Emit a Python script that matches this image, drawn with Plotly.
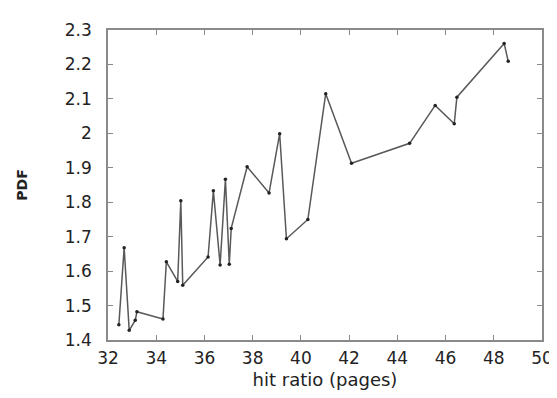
import plotly.graph_objects as go

hit_ratio = [32.45, 32.67, 32.88, 33.13, 33.2, 34.28, 34.42, 34.89, 35.02, 35.1,
             36.15, 36.37, 36.65, 36.87, 37.03, 37.11, 37.77, 38.68, 39.12, 39.4,
             40.29, 41.03, 42.1, 44.51, 45.57, 46.36, 46.47, 48.43, 48.6]
pdf = [1.444, 1.668, 1.428, 1.457, 1.482, 1.461, 1.627, 1.570, 1.804, 1.559,
       1.641, 1.833, 1.618, 1.867, 1.620, 1.724, 1.903, 1.827, 1.999, 1.694,
       1.750, 2.115, 1.913, 1.971, 2.081, 2.028, 2.105, 2.261, 2.209]

x_ticks = [32, 34, 36, 38, 40, 42, 44, 46, 48, 50]
y_ticks = [1.4, 1.5, 1.6, 1.7, 1.8, 1.9, 2.0, 2.1, 2.2, 2.3]

fig = go.Figure()
fig.add_trace(go.Scatter(
    x=hit_ratio, y=pdf, mode="lines+markers",
    line=dict(color="#595959", width=1.5),
    marker=dict(color="#222222", size=3.5, symbol="circle"),
    showlegend=False,
))

axis_common = dict(
    showline=True, mirror="ticks", linecolor="#8a8a8a", linewidth=1.5,
    ticks="inside", ticklen=5, tickcolor="#8a8a8a", tickwidth=1,
    showgrid=False, zeroline=False,
    tickfont=dict(family="DejaVu Sans", size=17, color="#222222"),
)

fig.update_layout(
    width=557, height=398,
    margin=dict(l=100, r=21, t=21, b=66),
    plot_bgcolor="white", paper_bgcolor="white",
    xaxis=dict(range=[32, 50], tickvals=x_ticks, ticklabelstandoff=2,
               title=dict(text="hit ratio (pages)", standoff=6,
                          font=dict(family="DejaVu Sans", size=18, color="#222222")),
               **axis_common),
    yaxis=dict(range=[1.4, 2.3], tickvals=y_ticks, ticklabelstandoff=11,
               title=dict(text="<b>PDF</b>", standoff=34,
                          font=dict(family="DejaVu Sans", size=14, color="#222222")),
               **axis_common),
)

fig.write_html("out.html")
